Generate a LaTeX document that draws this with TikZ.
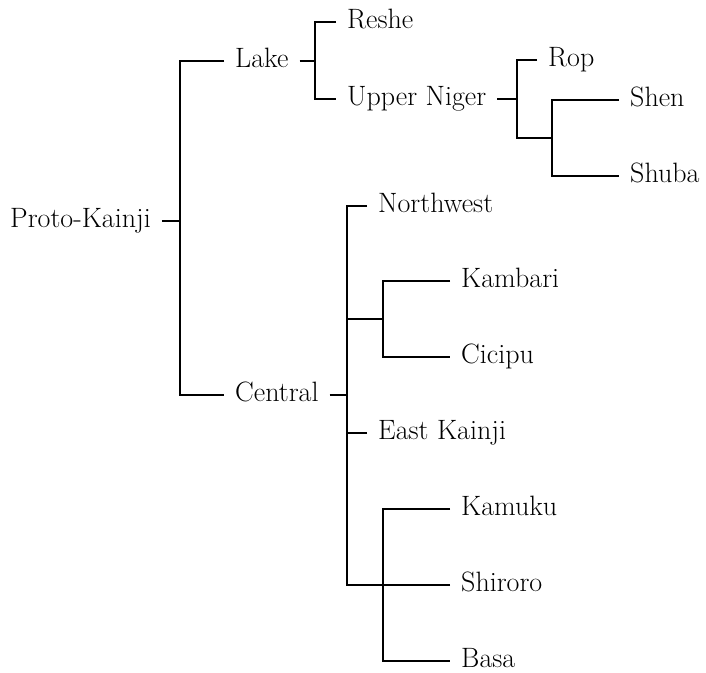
\documentclass[tikz,border=0pt]{standalone}
\usepackage{fontspec}
\begin{document}
\fontsize{28}{32}\selectfont
\begin{tikzpicture}[x=1pt,y=-1pt,
  lab/.style={inner xsep=11pt, inner ysep=0pt, font=\fontsize{28}{32}\selectfont},
  leaf/.style={lab, anchor=mid west},
  br/.style={line width=1.05pt, black}]
\useasboundingbox (0,0) rectangle (706,672);
% nodes
\node[leaf] (proto) at (-1,221) {Proto-Kainji};
\node[leaf] (lake) at (224,61) {Lake};
\node[leaf] (reshe) at (336,22) {Reshe};
\node[leaf] (upper) at (336,99) {Upper Niger};
\node[leaf] (rop) at (537,60) {Rop};
\node[leaf] (shen) at (619,100) {Shen};
\node[leaf] (shuba) at (619,176) {Shuba};
\node[leaf] (central) at (224,395) {Central};
\node[leaf] (northwest) at (367,206) {Northwest};
\node[leaf] (kambari) at (450,281) {Kambari};
\node[leaf] (cicipu) at (450,357) {Cicipu};
\node[leaf] (eastk) at (367,433) {East Kainji};
\node[leaf] (kamuku) at (450,509) {Kamuku};
\node[leaf] (shiroro) at (450,585) {Shiroro};
\node[leaf] (basa) at (450,661) {Basa};
% junctions
\coordinate (j0) at (180,221);
\coordinate (j1) at (315,61);
\coordinate (j2) at (517,99);
\coordinate (j3) at (552,138);
\coordinate (j4) at (347,395);
\coordinate (j5) at (383,319);
\coordinate (j6) at (383,585);
% connectors
\draw[br] (proto.mid east) -- (j0);
\draw[br] (lake.mid west) -| (j0) |- (central.mid west);
\draw[br] (lake.mid east) -- (j1);
\draw[br] (reshe.mid west) -| (j1) |- (upper.mid west);
\draw[br] (upper.mid east) -- (j2);
\draw[br] (rop.mid west) -| (j2) |- (j3);
\draw[br] (shen.mid west) -| (j3) |- (shuba.mid west);
\draw[br] (central.mid east) -- (j4);
\draw[br] (northwest.mid west) -| (j4) |- (j6);
\draw[br] (j5) -- (j5 -| j4);
\draw[br] (eastk.mid west) -- (eastk.mid west -| j4);
\draw[br] (kambari.mid west) -| (j5) |- (cicipu.mid west);
\draw[br] (kamuku.mid west) -| (j6) |- (basa.mid west);
\draw[br] (shiroro.mid west) -- (j6);
\end{tikzpicture}
\end{document}
